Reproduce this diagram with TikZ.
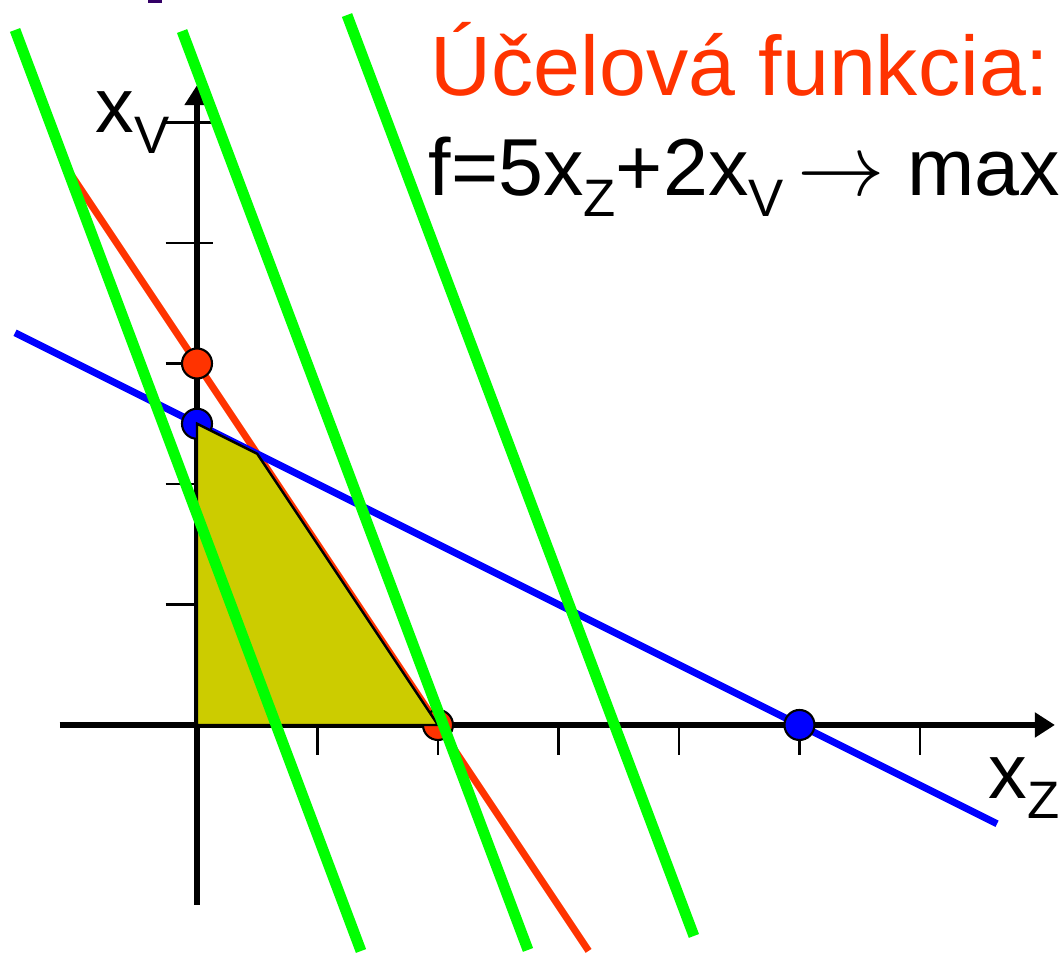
\documentclass[tikz,border=0pt]{standalone}
\usepackage{fontspec}
\setmainfont{Liberation Sans}
\usepackage{tikz}
\usetikzlibrary{arrows.meta}

\definecolor{objred}{HTML}{FF3300}
\definecolor{objgreen}{HTML}{00FF00}
\definecolor{limblue}{HTML}{0000FF}
\definecolor{areaolive}{HTML}{CCCC00}
\definecolor{titlepurple}{HTML}{330066}

\newcommand{\lowsub}[2]{\raisebox{-0.26em}{\fontsize{#1}{#1}\selectfont #2}}

\begin{document}
\begin{tikzpicture}[x=1.205cm, y=1.205cm,
  axisline/.style={line width=1.7pt, -{Triangle[length=0.2cm,width=0.24cm]}},
  tickmark/.style={line width=0.6pt},
  redline/.style={objred, line width=2pt},
  blueline/.style={limblue, line width=2pt},
  objline/.style={objgreen, line width=3.1pt},
  dot/.style={circle, draw=black, line width=0.6pt, minimum size=0.3cm, inner sep=0pt},
  bigtext/.style={anchor=base west, inner sep=0pt, font=\fontsize{24pt}{28pt}\selectfont},
  axislabel/.style={anchor=base west, inner sep=0pt, font=\fontsize{22pt}{26pt}\selectfont}]
  \useasboundingbox (-1.635,-1.900) rectangle (7.154,6.017);

  % axes
  \coordinate (O) at (0,0);
  \coordinate (xstart) at (-1.14,0);
  \coordinate (xend) at (7.12,0);
  \coordinate (ystart) at (0,-1.49);
  \coordinate (yend) at (0,5.31);
  \draw[axisline] (xstart) -- (xend);
  \draw[axisline] (ystart) -- (yend);
  \foreach \i in {1,...,6} \draw[tickmark] (\i,0) -- (\i,-0.25);
  \foreach \i in {1,...,5} \draw[tickmark] (-0.26,\i) -- (0.13,\i);

  % constraints
  \coordinate (r1) at (-1.1,4.65);
  \coordinate (r2) at (3.25,-1.875);
  \coordinate (b1) at (-1.51,3.255);
  \coordinate (b2) at (6.64,-0.82);
  \draw[redline] (r1) -- (r2);
  \draw[blueline] (b1) -- (b2);
  \node[dot, fill=objred] (rA) at (0,3) {};
  \node[dot, fill=objred] (rB) at (2,0) {};
  \node[dot, fill=limblue] (bA) at (0,2.5) {};
  \node[dot, fill=limblue] (bB) at (5,0) {};

  % feasible region
  \coordinate (P) at (0.5,2.25);
  \filldraw[fill=areaolive, draw=black, line width=0.7pt] (O) -- (bA.center) -- (P) -- (rB.center) -- cycle;

  % objective lines
  \coordinate (g1a) at (-1.510,5.768);
  \coordinate (g1b) at (1.361,-1.876);
  \coordinate (g2a) at (-0.124,5.759);
  \coordinate (g2b) at (2.747,-1.867);
  \coordinate (g3a) at (1.245,5.892);
  \coordinate (g3b) at (4.124,-1.751);
  \draw[objline] (g1a) -- (g1b);
  \draw[objline] (g2a) -- (g2b);
  \draw[objline] (g3a) -- (g3b);

  % labels
  \node[axislabel] (ylab) at (-0.846,4.913) {x\lowsub{15pt}{V}};
  \node[axislabel] (xlab) at (6.564,-0.606) {x\lowsub{15pt}{Z}};
  \node[bigtext, text=objred] (title) at (1.934,5.228) {Účelová funkcia:};
  \node[bigtext, font=\fontsize{23pt}{27pt}\selectfont] (func) at (1.917,4.398) {f=5x\lowsub{15pt}{Z}+2x\lowsub{15pt}{V}\,$\rightarrow$ max};
  \fill[titlepurple] (-0.41,5.99) rectangle (-0.29,6.02);
\end{tikzpicture}
\end{document}
